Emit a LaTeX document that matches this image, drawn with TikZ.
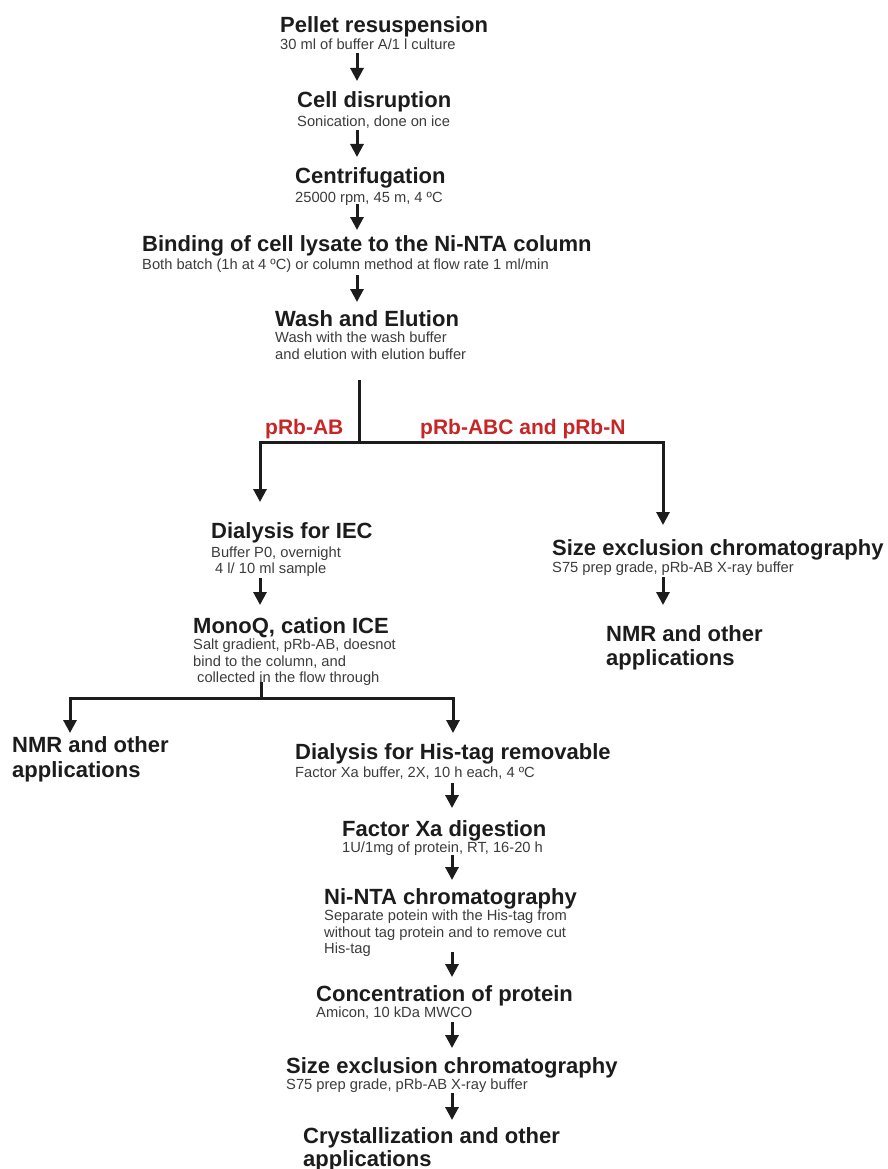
\documentclass[tikz,border=0pt]{standalone}
\usepackage{fontspec}
\setmainfont{Liberation Sans}
\usetikzlibrary{arrows.meta}
\definecolor{ink}{RGB}{28,28,28}
\definecolor{subink}{RGB}{60,60,60}
\definecolor{lblred}{RGB}{200,38,38}
\begin{document}
\begin{tikzpicture}[x=1pt,y=-1pt,
  ttl/.style={anchor=base west,inner sep=0pt,font=\fontsize{22}{26}\selectfont\bfseries,text=ink},
  sub/.style={anchor=base west,inner sep=0pt,font=\fontsize{14.7}{17}\selectfont,text=subink},
  lbl/.style={anchor=base west,inner sep=0pt,font=\fontsize{21}{25}\selectfont\bfseries,text=lblred},
  line/.style={draw=ink,line width=3pt,line join=miter},
  arr/.style={line,-{Triangle[width=13pt,length=13pt]}}]
\useasboundingbox[fill=white] (0,0) rectangle (887,1169);

% main column
\node[ttl] (t1) at (280,33) {Pellet resuspension};
\node[sub] (s1) at (280,50) {30 ml of buffer A/1 l culture};
\node[ttl] (t2) at (297,108) {Cell disruption};
\node[sub] (s2) at (297,127) {Sonication, done on ice};
\node[ttl] (t3) at (295,183) {Centrifugation};
\node[sub] (s3) at (295,202) {25000 rpm, 45 m, 4 ºC};
\node[ttl] (t4) at (142,251) {Binding of cell lysate to the Ni-NTA column};
\node[sub] (s4) at (142,269) {Both batch (1h at 4 ºC) or column method at flow rate 1 ml/min};
\node[ttl] (t5) at (275,326) {Wash and Elution};
\node[sub] (s5a) at (275,342) {Wash with the wash buffer};
\node[sub] (s5b) at (275,359) {and elution with elution buffer};

% branch labels
\node[lbl] (l1) at (265,434) {pRb-AB};
\node[lbl] (l2) at (420,434) {pRb-ABC and pRb-N};

% left branch
\node[ttl] (t6) at (211,538) {Dialysis for IEC};
\node[sub] (s6a) at (211,557) {Buffer P0, overnight};
\node[sub] (s6b) at (215,573) {4 l/ 10 ml sample};
\node[ttl] (t7) at (193,633) {MonoQ, cation ICE};
\node[sub] (s7a) at (193,649) {Salt gradient, pRb-AB, doesnot};
\node[sub] (s7b) at (193,666) {bind to the column, and};
\node[sub] (s7c) at (197,682) {collected in the flow through};

\node[ttl] (t8) at (12,752) {NMR and other};
\node[ttl] (t8b) at (12,777) {applications};

\node[ttl] (t9) at (295,759) {Dialysis for His-tag removable};
\node[sub] (s9) at (295,777) {Factor Xa buffer, 2X, 10 h each, 4 ºC};
\node[ttl] (t10) at (342,836) {Factor Xa digestion};
\node[sub] (s10) at (342,852) {1U/1mg of protein, RT, 16-20 h};
\node[ttl] (t11) at (324,904) {Ni-NTA chromatography};
\node[sub] (s11a) at (324,920) {Separate potein with the His-tag from};
\node[sub] (s11b) at (324,937) {without tag protein and to remove cut};
\node[sub] (s11c) at (324,953) {His-tag};
\node[ttl] (t12) at (316,1001) {Concentration of protein};
\node[sub] (s12) at (316,1017) {Amicon, 10 kDa MWCO};
\node[ttl] (t13) at (286,1073) {Size exclusion chromatography};
\node[sub] (s13) at (286,1089) {S75 prep grade, pRb-AB X-ray buffer};
\node[ttl] (t14) at (303,1143) {Crystallization and other};
\node[ttl] (t14b) at (303,1166) {applications};

% right branch
\node[ttl] (t15) at (552,555) {Size exclusion chromatography};
\node[sub] (s15) at (552,572) {S75 prep grade, pRb-AB X-ray buffer};
\node[ttl] (t16) at (606,641) {NMR and other};
\node[ttl] (t16b) at (606,665) {applications};

% axis coordinates
\coordinate (xa) at (357,0);
\coordinate (xw) at (359,0);
\coordinate (xl) at (260,0);
\coordinate (xm) at (261,0);
\coordinate (xr) at (663,0);
\coordinate (xbl) at (70,0);
\coordinate (xbr) at (453,0);
\coordinate (xh) at (452,0);
\coordinate (j1) at (359,442);
\coordinate (j2) at (261,698);

% arrows main column
\draw[arr] ([yshift=-3pt]s1.base -| xa) -- ([yshift=27pt]t2.base -| xa);
\draw[arr] ([yshift=-3pt]s2.base -| xa) -- ([yshift=26pt]t3.base -| xa);
\draw[arr] ([yshift=-2pt]s3.base -| xa) -- ([yshift=21pt]t4.base -| xa);
\draw[arr] ([yshift=-6pt]s4.base -| xa) -- ([yshift=24pt]t5.base -| xa);

% first split
\draw[line] ([yshift=-21pt]s5b.base -| xw) -- (j1);
\draw[arr] (j1) -| ([yshift=36pt]t6.base -| xl);
\draw[arr] (j1) -| ([yshift=30pt]t15.base -| xr);

% left branch
\draw[arr] ([yshift=-5pt]s6b.base -| xl) -- ([yshift=28pt]t7.base -| xl);
\draw[line] (s7c.base -| xm) -- (j2);
\draw[arr] (j2) -| ([yshift=19pt]t8.base -| xbl);
\draw[arr] (j2) -| ([yshift=26pt]t9.base -| xbr);

% His-tag removal chain
\draw[arr] ([yshift=-6pt]s9.base -| xh) -- ([yshift=28pt]t10.base -| xh);
\draw[arr] ([yshift=-3pt]s10.base -| xh) -- ([yshift=24pt]t11.base -| xh);
\draw[arr] ([yshift=1pt]s11c.base -| xh) -- ([yshift=24pt]t12.base -| xh);
\draw[arr] ([yshift=-5pt]s12.base -| xh) -- ([yshift=25pt]t13.base -| xh);
\draw[arr] ([yshift=-4pt]s13.base -| xh) -- ([yshift=23pt]t14.base -| xh);

% right branch
\draw[arr] ([yshift=-5pt]s15.base -| xr) -- ([yshift=36pt]t16.base -| xr);
\end{tikzpicture}
\end{document}
